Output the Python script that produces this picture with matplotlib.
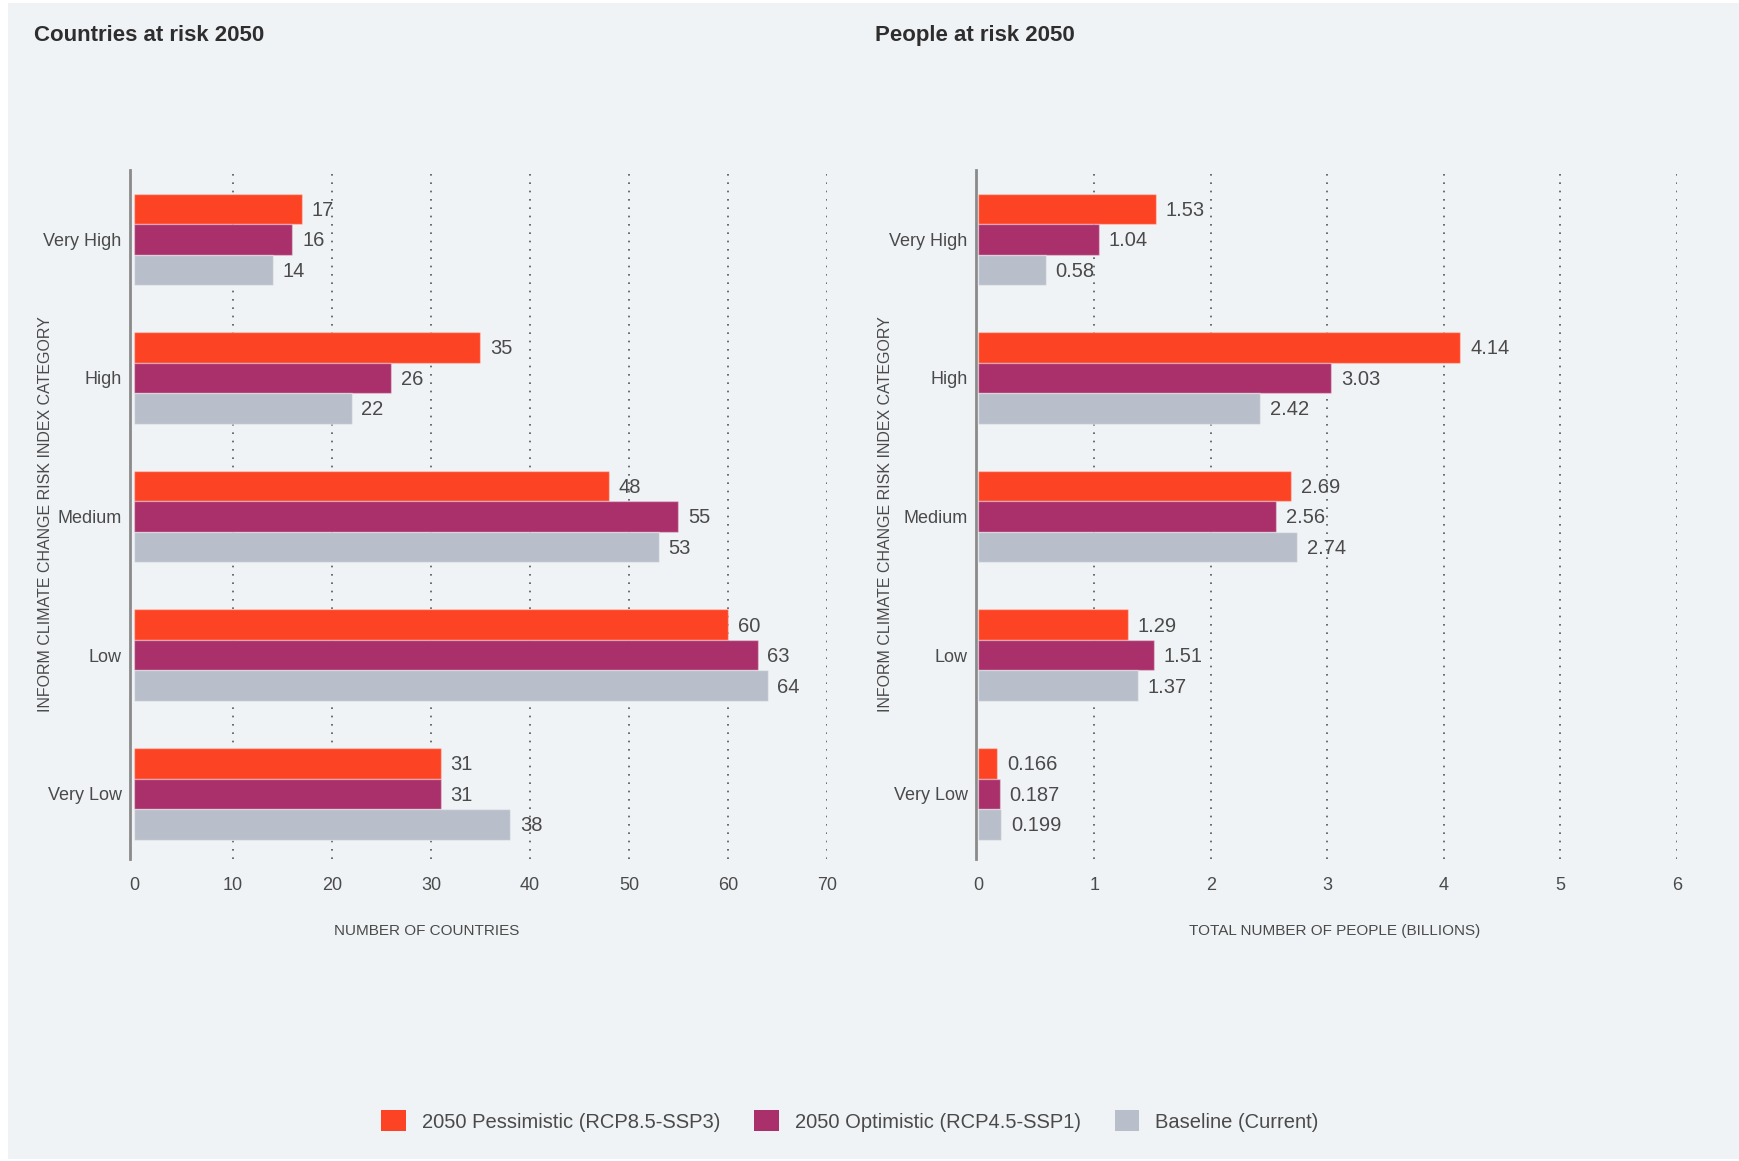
import numpy as np
import matplotlib.pyplot as plt
from matplotlib.patches import Rectangle

# risk categories, top to bottom
categories = ["Very High", "High", "Medium", "Low", "Very Low"]

# number of countries per category
countries_pessimistic = [17, 35, 48, 60, 31]
countries_optimistic = [16, 26, 55, 63, 31]
countries_baseline = [14, 22, 53, 64, 38]

# people per category (billions)
people_pessimistic = [1.53, 4.14, 2.69, 1.29, 0.166]
people_optimistic = [1.04, 3.03, 2.56, 1.51, 0.187]
people_baseline = [0.58, 2.42, 2.74, 1.37, 0.199]

series_names = ["2050 Pessimistic (RCP8.5-SSP3)", "2050 Optimistic (RCP4.5-SSP1)", "Baseline (Current)"]
series_colors = ["#FC4424", "#A9306A", "#B8BFCA"]

countries_ticks = [0, 10, 20, 30, 40, 50, 60, 70]
people_ticks = [0, 1, 2, 3, 4, 5, 6]

plt.rcParams['font.family'] = ['Liberation Sans', 'DejaVu Sans']

W, H = 1739, 1161
fig = plt.figure(figsize=(W / 100, H / 100), dpi=100)
fig.patch.set_facecolor("white")
bg = "#F0F3F6"
fig.patches.append(Rectangle((8 / W, 2 / H), 1 - 8 / W, 1 - 5 / H,
                             transform=fig.transFigure, facecolor=bg,
                             edgecolor="none", zorder=-10))

text_col = "#4A4A4A"


def draw_panel(ax, series, ticks, xmin, fmt, xlabel, xlabel_x):
    ax.set_facecolor("none")
    y = np.arange(len(categories))
    h = 0.22
    for i, (vals, col) in enumerate(zip(series, series_colors)):
        pos = y + (i - 1) * h
        ax.barh(pos, vals, height=h, color=col,
                edgecolor=(1, 1, 1, 0.35), linewidth=1, zorder=3)
        for p, v in zip(pos, vals):
            ax.annotate(fmt(v), (v, p), xytext=(7, -1), textcoords="offset points",
                        va="center", ha="left", fontsize=14.5, color=text_col, zorder=4)
    ax.set_ylim(len(categories) - 0.53, -0.5)
    ax.set_xlim(xmin, ticks[-1])
    ax.set_xticks(ticks)
    ax.set_xticklabels([str(t) for t in ticks])
    ax.set_yticks(y)
    ax.set_yticklabels(categories)
    ax.tick_params(axis="both", length=0, labelsize=13, colors=text_col)
    ax.tick_params(axis="x", pad=13)
    ax.tick_params(axis="y", pad=6)
    for t in ticks[1:]:
        ax.axvline(t, color="#555555", linestyle=(0, (1, 4)), linewidth=1.2, zorder=1)
    for s in ["top", "right", "bottom"]:
        ax.spines[s].set_visible(False)
    ax.spines["left"].set_color("#8A8A8A")
    ax.spines["left"].set_linewidth(2)
    ax.set_xlabel(xlabel, fontsize=11, color=text_col)
    ax.xaxis.set_label_coords(xlabel_x, -0.094)
    ax.set_ylabel("INFORM CLIMATE CHANGE RISK INDEX CATEGORY", fontsize=11.5, color=text_col)


ax1 = fig.add_axes([130 / W, 1 - 859 / H, 697 / W, 689 / H])
draw_panel(ax1, [countries_pessimistic, countries_optimistic, countries_baseline],
           countries_ticks, -0.4, lambda v: f"{v:g}", "NUMBER OF COUNTRIES", 0.426)
ax1.yaxis.set_label_coords(-(130 - 53) / 697, 0.5)

ax2 = fig.add_axes([976 / W, 1 - 859 / H, 701 / W, 689 / H])
draw_panel(ax2, [people_pessimistic, people_optimistic, people_baseline],
           people_ticks, -0.017, lambda v: f"{v:g}", "TOTAL NUMBER OF PEOPLE (BILLIONS)", 0.512)
ax2.yaxis.set_label_coords(-(976 - 893) / 701, 0.5)

fig.text(34 / W, 1 - 41 / H, "Countries at risk 2050", fontsize=16, fontweight="bold",
         color="#2E2E2E", va="baseline", ha="left")
fig.text(875 / W, 1 - 41 / H, "People at risk 2050", fontsize=16, fontweight="bold",
         color="#2E2E2E", va="baseline", ha="left")

handles = [Rectangle((0, 0), 1, 1, facecolor=c, edgecolor="none") for c in series_colors]
leg = fig.legend(handles, series_names, loc="center", bbox_to_anchor=(850 / W, 1 - 1121 / H),
                 ncol=3, frameon=False, fontsize=14.5, handlelength=1.2, handleheight=1.2,
                 handletextpad=0.8, columnspacing=1.7)
for t in leg.get_texts():
    t.set_color(text_col)

fig.savefig("out.png", dpi=100, facecolor=fig.get_facecolor())
